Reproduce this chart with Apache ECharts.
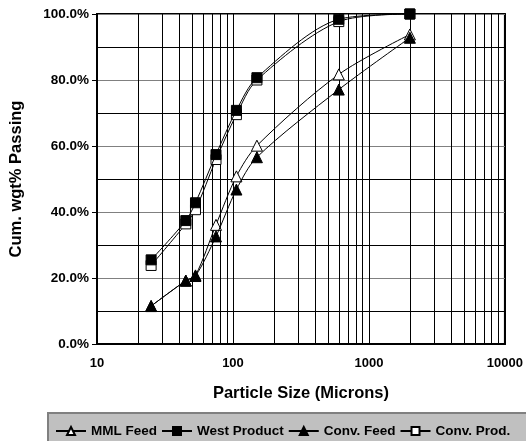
<!DOCTYPE html>
<html>
<head>
<meta charset="utf-8">
<script src="https://cdn.jsdelivr.net/npm/echarts@6/dist/echarts.min.js"></script>
<style>
  html, body { margin: 0; padding: 0; background: #fff; }
  #main { width: 526px; height: 441px; }
</style>
</head>
<body>
<div id="main"></div>
<script>
// sieve sizes (microns)
var sizes = [25, 45, 53, 75, 106, 150, 600, 2000];
// cumulative % passing
var mmlFeed     = [11.5, 19.2, 20.8, 36.1, 50.8, 60.1, 81.7, 93.8];
var westProduct = [25.5, 37.4, 42.8, 57.4, 70.8, 80.7, 98.4, 100];
var convFeed    = [11.5, 19.2, 20.6, 32.6, 46.8, 56.6, 77.1, 92.8];
var convProd    = [23.8, 36.4, 40.7, 55.9, 69.5, 80.0, 97.7, 100];
// minor log gridlines
var minorX = [20, 30, 40, 50, 60, 70, 80, 90, 200, 300, 400, 500, 600, 700, 800, 900,
              2000, 3000, 4000, 5000, 6000, 7000, 8000, 9000];

var FONT = '"Liberation Sans", Arial, sans-serif';

function pairs(vals) {
    return sizes.map(function (s, i) { return [s, vals[i]]; });
}

function mkSeries(name, vals, symbol, filled) {
    return {
        name: name,
        type: 'line',
        data: pairs(vals),
        smooth: 0.3,
        clip: false,
        symbol: symbol,
        symbolSize: symbol == 'triangle' ? 11 : 10,
        z: filled ? 6 : 5,   // filled markers sit on top
        lineStyle: { color: '#000', width: 1 },
        itemStyle: { color: filled ? '#000' : '#fff', borderColor: '#000', borderWidth: 1 }
    };
}

var chart = echarts.init(document.getElementById('main'));
chart.setOption({
    animation: false,
    grid: { left: 95, right: 20, top: 14, bottom: 97, show: true, borderColor: '#000', borderWidth: 2 },
    graphic: [{
        type: 'rect', z: 0,
        shape: { x: 48, y: 413, width: 490, height: 30 },
        style: { fill: '#c0c0c0', stroke: '#808080', lineWidth: 2 }
    }],
    legend: {
        left: 50, top: 419, z: 10,
        itemWidth: 30, itemHeight: 10, itemGap: 4,
        data: ['MML Feed', 'West Product', 'Conv. Feed', 'Conv. Prod.'],
        textStyle: { fontFamily: FONT, fontWeight: 'bold', fontSize: 13.5, color: '#000' }
    },
    xAxis: {
        type: 'log', logBase: 10, min: 10, max: 10000,
        name: 'Particle Size (Microns)', nameLocation: 'middle', nameGap: 41,
        nameTextStyle: { fontFamily: FONT, fontWeight: 'bold', fontSize: 16.5, color: '#000' },
        axisLine: { lineStyle: { color: '#000', width: 2 } },
        axisTick: { show: false },
        axisLabel: {
            margin: 13, fontFamily: FONT, fontWeight: 'bold', fontSize: 13, color: '#000',
            formatter: function (v) { return String(Math.round(v)); }
        },
        splitLine: { show: true, lineStyle: { color: '#000', width: 1 } }
    },
    yAxis: {
        type: 'value', min: 0, max: 100, interval: 20,
        name: 'Cum. wgt% Passing', nameLocation: 'middle', nameGap: 72, nameRotate: 90,
        nameTextStyle: { fontFamily: FONT, fontWeight: 'bold', fontSize: 16.5, color: '#000' },
        axisLine: { lineStyle: { color: '#000', width: 2 } },
        axisTick: { show: true, length: 5, lineStyle: { color: '#000' } },
        axisLabel: {
            margin: 8, fontFamily: FONT, fontWeight: 'bold', fontSize: 13.5, color: '#000',
            formatter: function (v) { return v.toFixed(1) + '%'; }
        },
        splitLine: { show: true, lineStyle: { color: '#808080', width: 1 } },
        minorTick: { show: false, splitNumber: 2 },
        minorSplitLine: { show: true, lineStyle: { color: '#000', width: 1 } }
    },
    series: [
        {
            name: 'grid', type: 'line', data: [], z: 1, silent: true,
            markLine: {
                silent: true, symbol: 'none', animation: false,
                label: { show: false },
                lineStyle: { color: '#000', width: 1, type: 'solid' },
                data: minorX.map(function (v) { return { xAxis: v }; })
            }
        },
        mkSeries('MML Feed', mmlFeed, 'triangle', false),
        mkSeries('West Product', westProduct, 'rect', true),
        mkSeries('Conv. Feed', convFeed, 'triangle', true),
        mkSeries('Conv. Prod.', convProd, 'rect', false)
    ]
});
</script>
</body>
</html>
